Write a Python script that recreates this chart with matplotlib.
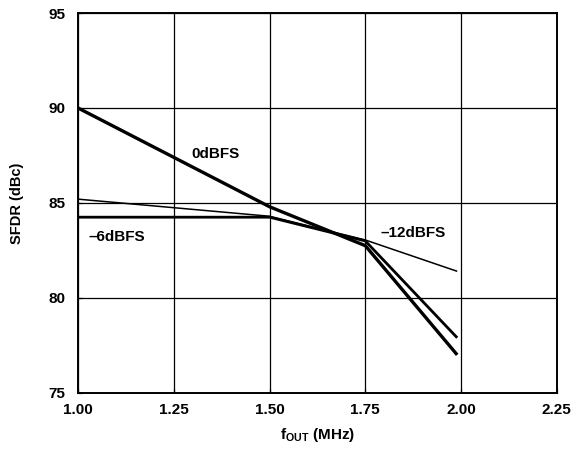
import matplotlib
matplotlib.use('Agg')
import matplotlib.pyplot as plt

plt.rcParams['font.family'] = ['Liberation Sans', 'DejaVu Sans']
plt.rcParams['font.weight'] = 'bold'
plt.rcParams['mathtext.fontset'] = 'custom'
plt.rcParams['mathtext.bf'] = 'Liberation Sans:bold'
plt.rcParams['mathtext.rm'] = 'Liberation Sans:bold'

# SFDR vs output frequency
freq = [1.00, 1.50, 1.75, 1.99]
sfdr_0dbfs = [90.0, 84.8, 82.75, 77.0]
sfdr_6dbfs = [84.25, 84.25, 83.0, 77.9]
sfdr_12dbfs = [85.2, 84.3, 83.05, 81.4]

xticks = [1.00, 1.25, 1.50, 1.75, 2.00, 2.25]
yticks = [75, 80, 85, 90, 95]

fig = plt.figure(figsize=(5.74, 4.5), dpi=100)
ax = fig.add_axes([0.136, 0.127, 0.834, 0.844])

ax.plot(freq, sfdr_0dbfs, color='black', lw=2.4, solid_capstyle='butt')
ax.plot(freq, sfdr_6dbfs, color='black', lw=2.0, solid_capstyle='butt')
ax.plot(freq, sfdr_12dbfs, color='black', lw=1.1, solid_capstyle='butt')

ax.text(1.36, 87.6, '0dBFS', fontsize=11, fontweight='bold', ha='center', va='center')
ax.text(1.10, 83.2, '\u20136dBFS', fontsize=11, fontweight='bold', ha='center', va='center')
ax.text(1.875, 83.4, '\u201312dBFS', fontsize=11, fontweight='bold', ha='center', va='center')

ax.set_xlim(1.0, 2.25)
ax.set_ylim(75, 95)
ax.set_xticks(xticks)
ax.set_xticklabels(['%.2f' % t for t in xticks])
ax.set_yticks(yticks)
ax.grid(True, color='black', lw=0.9)
ax.tick_params(direction='in', length=3, labelsize=11, width=0.9)
ax.tick_params(axis='y', pad=9)
ax.tick_params(axis='x', pad=7)
for lab in ax.get_xticklabels() + ax.get_yticklabels():
    lab.set_fontweight('bold')
for s in ax.spines.values():
    s.set_linewidth(1.4)

ax.set_xlabel(r'$\mathbf{f_{OUT}}$ (MHz)', fontsize=11, fontweight='bold', labelpad=7)
ax.set_ylabel('SFDR (dBc)', fontsize=10.5, fontweight='bold', labelpad=18)

fig.savefig('out.png', dpi=100)
